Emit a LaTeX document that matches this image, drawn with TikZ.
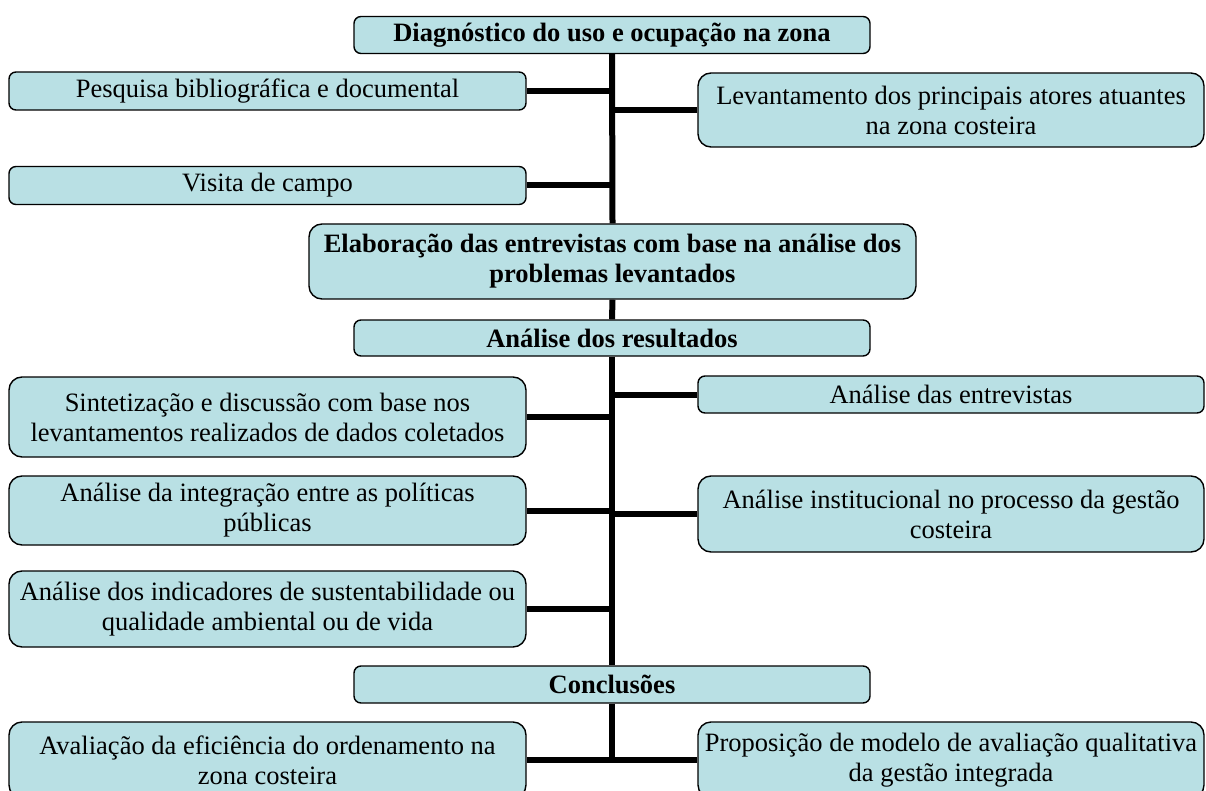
\documentclass[tikz,border=0pt]{standalone}
\usepackage{fontspec}
\setmainfont{Liberation Serif}
\definecolor{boxfill}{RGB}{185,224,228}
\begin{document}
\begin{tikzpicture}[x=1pt,y=-1pt,
  box/.style={draw=black, line width=1.4pt, fill=boxfill, inner sep=0pt, align=center,
              font=\fontsize{26.5}{30}\selectfont, text=black},
  onebox/.style={box, rounded corners=7pt},
  twobox/.style={box, rounded corners=13pt},
  conn/.style={line width=6pt, draw=black}]
\useasboundingbox (0,0) rectangle (1206,791);
\clip (0,0) rectangle (1206,791);

% central chain
\node[onebox, minimum width=516pt, minimum height=37pt] (diag) at (612,35) {\textbf{Diagnóstico do uso e ocupação na zona}};
\node[twobox, minimum width=607pt, minimum height=75pt] (elab) at (612.5,261.5) {\textbf{Elaboração das entrevistas com base na análise dos}\\\textbf{problemas levantados}};
\node[onebox, minimum width=516pt, minimum height=36pt] (res) at (612,338) {\textbf{Análise dos resultados}};
\node[onebox, minimum width=516pt, minimum height=37pt] (concl) at (612,684.5) {\textbf{Conclusões}};

% left side
\node[onebox, minimum width=517pt, minimum height=38pt] (pesq) at (267.5,91) {Pesquisa bibliográfica e documental};
\node[onebox, minimum width=517pt, minimum height=38pt] (visita) at (267.5,185.5) {Visita de campo};
\node[twobox, minimum width=517pt, minimum height=80pt] (sint) at (267.5,417) {Sintetização e discussão com base nos\\levantamentos realizados de dados coletados};
\node[twobox, minimum width=517pt, minimum height=69pt] (integ) at (267.5,510.5) {Análise da integração entre as políticas\\públicas};
\node[twobox, minimum width=517pt, minimum height=76pt] (indic) at (267.5,609) {Análise dos indicadores de sustentabilidade ou\\qualidade ambiental ou de vida};
\node[twobox, minimum width=517pt, minimum height=76pt] (aval) at (267.5,760) {Avaliação da eficiência do ordenamento na\\zona costeira};

% right side
\node[twobox, minimum width=506pt, minimum height=74pt] (levant) at (951,110) {Levantamento dos principais atores atuantes\\na zona costeira};
\node[onebox, minimum width=506pt, minimum height=37pt] (entrev) at (951,394.5) {Análise das entrevistas};
\node[twobox, minimum width=506pt, minimum height=76pt] (instit) at (951,514) {Análise institucional no processo da gestão\\costeira};
\node[twobox, minimum width=506pt, minimum height=76pt] (propos) at (951,760) {Proposição de modelo de avaliação qualitativa\\da gestão integrada};

% trunk
\coordinate (tend) at (612,760);
\draw[conn] (diag.south) -- (elab.north);
\draw[conn] (elab.south) -- (res.north);
\draw[conn] (res.south) -- (concl.north);
\draw[conn] (concl.south) -- (tend);

% branches
\draw[conn] (pesq.east) -- (pesq.east -| diag.south);
\draw[conn] (visita.east) -- (visita.east -| diag.south);
\draw[conn] (levant.west) -- (levant.west -| diag.south);
\draw[conn] (sint.east) -- (sint.east -| res.south);
\draw[conn] (entrev.west) -- (entrev.west -| res.south);
\draw[conn] (integ.east) -- (integ.east -| res.south);
\draw[conn] (instit.west) -- (instit.west -| res.south);
\draw[conn] (indic.east) -- (indic.east -| res.south);
\draw[conn] (aval.east) -- (propos.west);
\end{tikzpicture}
\end{document}
